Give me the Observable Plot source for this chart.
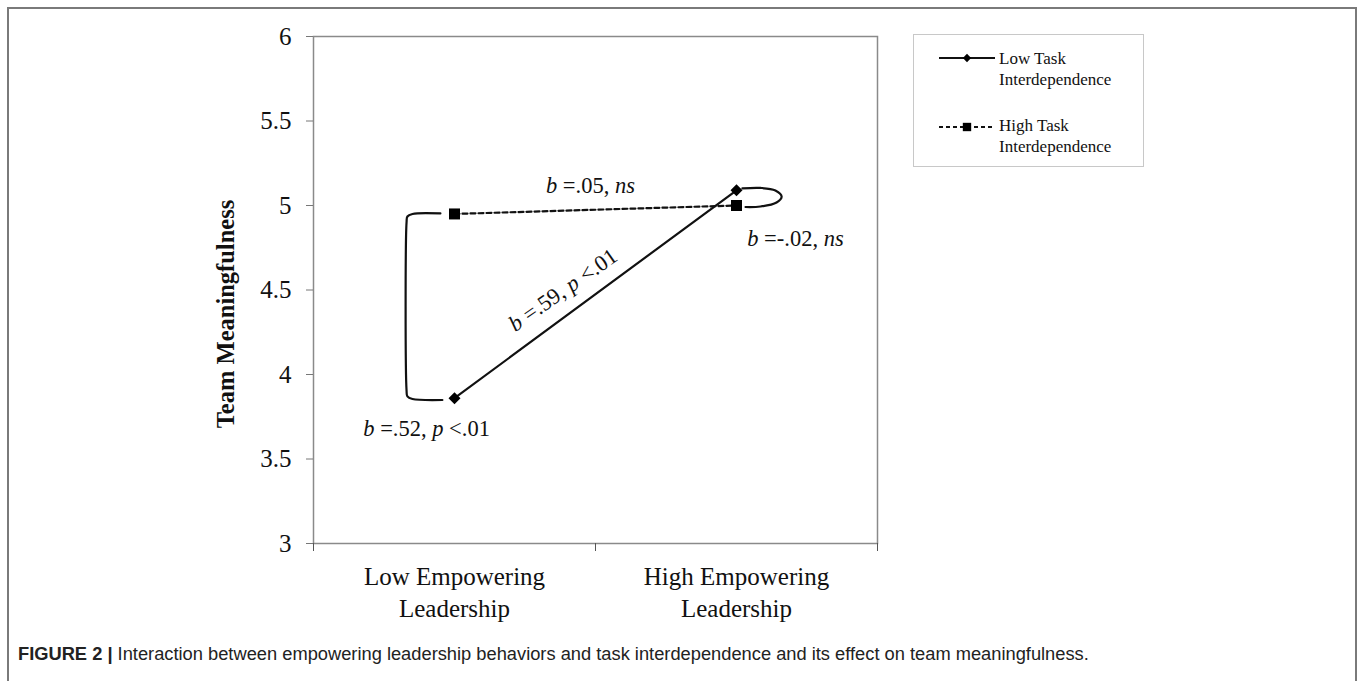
<!DOCTYPE html>
<html><head><meta charset="utf-8">
<script src="https://cdn.jsdelivr.net/npm/d3@7"></script>
<script src="https://cdn.jsdelivr.net/npm/@observablehq/plot@0.6"></script>
<style>
body{margin:0;background:#fff;}
#chart{position:absolute;left:0;top:0;}
#frame{position:absolute;left:7px;top:7px;width:1350px;height:720px;border:2px solid #7a7a7a;box-sizing:border-box;pointer-events:none;}
#legend{position:absolute;left:913px;top:34px;width:231px;height:133px;border:1px solid #c8c8c8;box-sizing:border-box;background:#fff;font-family:"Liberation Serif",serif;font-size:17px;color:#111;}
.entry{position:absolute;left:0;width:229px;}
.entry svg{position:absolute;left:24px;}
.entry .lab{position:absolute;left:85px;line-height:21px;white-space:nowrap;}
#caption{position:absolute;left:18px;top:643px;line-height:21px;font-family:"Liberation Sans",Arial,sans-serif;font-size:18.3px;color:#222;white-space:nowrap;}
</style></head><body>
<div id="chart"></div>
<div id="legend"></div>
<div id="caption"><b>FIGURE 2 |</b> Interaction between empowering leadership behaviors and task interdependence and its effect on team meaningfulness.</div>
<div id="frame"></div>
<script>
// ---- data ----
const categories = ["Low Empowering Leadership", "High Empowering Leadership"];
const categoryLabels = ["Low Empowering\nLeadership", "High Empowering\nLeadership"];
const seriesNames = ["Low Task Interdependence", "High Task Interdependence"];
const lowTaskValues = [3.86, 5.09];
const highTaskValues = [4.95, 5.00];
const yTicks = [3, 3.5, 4, 4.5, 5, 5.5, 6];
const yLabel = "Team Meaningfulness";
const slopeLabels = ["*b* =.05, *ns*", "*b* =-.02, *ns*", "*b* =.59, *p* <.01", "*b* =.52, *p* <.01"];

const rows = (vals, s) => categories.map((c, i) => ({category: c, pos: i + 0.5, value: vals[i], series: s}));
const lowRows = rows(lowTaskValues, seriesNames[0]);
const highRows = rows(highTaskValues, seriesNames[1]);

// annotation brackets (data units, anchored to the points they join)
const lo0 = lowTaskValues[0], hi0 = highTaskValues[0], lo1 = lowTaskValues[1], hi1 = highTaskValues[1];
const leftBracket = [
  {x: 0.450, y: hi0 + 0.003}, {x: 0.351, y: hi0}, {x: 0.333, y: hi0 - 0.015}, {x: 0.330, y: hi0 - 0.05},
  {x: 0.330, y: lo0 + 0.045}, {x: 0.333, y: lo0 + 0.01}, {x: 0.351, y: lo0 - 0.005}, {x: 0.457, y: lo0 - 0.011}
];
const rightLoop = [
  {x: 1.521, y: lo1 + 0.011}, {x: 1.585, y: lo1 + 0.014}, {x: 1.638, y: lo1 - 0.001}, {x: 1.660, y: lo1 - 0.037},
  {x: 1.642, y: hi1 + 0.018}, {x: 1.585, y: hi1 - 0.006}, {x: 1.532, y: hi1 - 0.009}
];
const labelRows = [
  {text: slopeLabels[0], x: 0.982, y: 5.118, rotate: 0},
  {text: slopeLabels[1], x: 1.709, y: 4.805, rotate: 0},
  {text: slopeLabels[2], x: 0.885, y: 4.500, rotate: -35},
  {text: slopeLabels[3], x: 0.401, y: 3.680, rotate: 0}
];

const svg = Plot.plot({
  width: 1357,
  height: 624,
  marginLeft: 313,
  marginRight: 480,
  marginTop: 36,
  marginBottom: 81,
  style: {fontFamily: "Liberation Serif, serif", fontSize: "24px", background: "transparent", color: "#111"},
  x: {domain: [0, 2]},
  y: {domain: [3, 6]},
  marks: [
    Plot.frame({stroke: "#8a8a8a", strokeWidth: 1.5}),
    Plot.axisY({ticks: yTicks, tickFormat: d => String(d), tickSize: 7, tickPadding: 15, fontSize: 25, stroke: "#777", fill: "#111", label: null}),
    Plot.axisX({ticks: [0, 1, 2], tickFormat: () => "", tickSize: 8, stroke: "#555", label: null}),
    Plot.axisX({ticks: [0.5, 1.5], tickFormat: d => categoryLabels[Math.floor(d)], tickSize: 0, tickPadding: 19, fontSize: 25, lineHeight: 1.28, fill: "#111", label: null}),
    Plot.text([yLabel], {frameAnchor: "left", textAnchor: "middle", dx: -87, dy: 24, rotate: -90, fontWeight: "bold", fontSize: 24.5, fill: "#111"}),
    Plot.line(leftBracket, {x: "x", y: "y", curve: "catmull-rom", stroke: "#111", strokeWidth: 2.2}),
    Plot.line(rightLoop, {x: "x", y: "y", curve: "catmull-rom", stroke: "#111", strokeWidth: 2.2}),
    Plot.line(highRows, {x: "pos", y: "value", stroke: "#111", strokeWidth: 2.2, strokeDasharray: "5,3"}),
    Plot.line(lowRows, {x: "pos", y: "value", stroke: "#111", strokeWidth: 2.2}),
    Plot.dot(highRows, {x: "pos", y: "value", symbol: "square", r: 6.2, fill: "#000", stroke: "none"}),
    Plot.dot(lowRows, {x: "pos", y: "value", symbol: "diamond2", r: 5.4, fill: "#000", stroke: "none"}),
    Plot.text(labelRows, {x: "x", y: "y", text: "text", rotate: "rotate", fontSize: 22.5, fill: "#111"})
  ]
});

// italic segments marked by *...*
d3.select(svg).selectAll("text").each(function() {
  const t = this.textContent;
  if (!t.includes("*")) return;
  const el = d3.select(this);
  el.text(null).attr("xml:space", "preserve");
  t.split("*").forEach((seg, i) => {
    if (!seg) return;
    const ts = el.append("tspan").text(seg);
    if (i % 2) ts.attr("font-style", "italic");
  });
});
document.getElementById("chart").appendChild(svg);

// ---- legend ----
const legend = d3.select("#legend");
const entries = [
  {name: seriesNames[0], top: 13, swTop: 13, dash: null, sym: d3.symbolDiamond2, size: 44},
  {name: seriesNames[1], top: 80, swTop: 82, dash: "4,3", sym: d3.symbolSquare, size: 70}
];
entries.forEach(e => {
  const div = legend.append("div").attr("class", "entry").style("top", "0px");
  const s = div.append("svg").attr("width", 58).attr("height", 20).style("top", e.swTop + "px");
  s.append("line").attr("x1", 1).attr("x2", 57).attr("y1", 10).attr("y2", 10)
    .attr("stroke", "#111").attr("stroke-width", 2).attr("stroke-dasharray", e.dash);
  s.append("path").attr("d", d3.symbol(e.sym, e.size)()).attr("transform", "translate(29,10)").attr("fill", "#000");
  const words = e.name.split(" ");
  div.append("div").attr("class", "lab").style("top", e.top + "px")
    .html(words.slice(0, 2).join(" ") + "<br>" + words.slice(2).join(" "));
});
</script>
</body></html>
